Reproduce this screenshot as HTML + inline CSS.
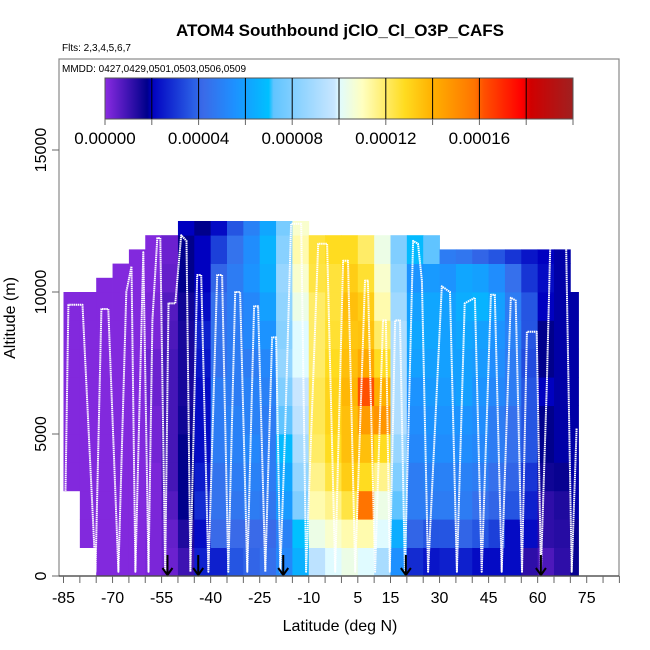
<!DOCTYPE html>
<html><head><meta charset="utf-8">
<style>
html,body{margin:0;padding:0;background:#fff;}
svg{display:block;font-family:"Liberation Sans",sans-serif;}
</style></head>
<body>
<svg id="chart" width="650" height="650" viewBox="0 0 650 650" xmlns="http://www.w3.org/2000/svg">
<rect x="0" y="0" width="650" height="650" fill="#fff"/>
<text x="340" y="36" text-anchor="middle" font-size="17" font-weight="bold">ATOM4 Southbound jClO_Cl_O3P_CAFS</text>
<text x="62" y="51" font-size="10">Flts: 2,3,4,5,6,7</text>
<g id="heat"></g>
<g id="track"></g>
<g id="arrows"></g>
<rect x="59" y="59" width="560" height="517" fill="none" stroke="#888" stroke-width="1.2"/>
<text x="62" y="72" font-size="10">MMDD: 0427,0429,0501,0503,0506,0509</text>
<g id="cbar"></g>
<g id="axes"></g>
<text x="340" y="631" text-anchor="middle" font-size="16">Latitude (deg N)</text>
<text transform="translate(15,318) rotate(-90)" text-anchor="middle" font-size="16">Altitude (m)</text>
</svg>
<script>
// ---- data ----
const latEdges = [-85,-80,-75,-70,-65,-60,-55,-50,-45,-40,-35,-30,-25,-20,-15,-10,-5,0,5,10,15,20,25,30,35,40,45,50,55,60,65,70,72.5];
const altEdges = [0,1000,2000,3000,4000,5000,6000,7000,8000,9000,10000,11000,12000,12500];
const colBottom = [3000,500,0,0,0,0,0,0,0,0,0,0,0,0,0,0,0,0,0,0,0,0,0,0,0,0,0,0,0,0,0,0];
const colTop = [10000,10000,10500,11000,11500,12000,12000,12500,12500,12500,12500,12500,12500,12500,12500,12000,12000,12000,12000,12000,12000,12000,12000,11500,11500,11500,11500,11500,11500,11500,11500,10000];
// values in units of 1e-6
const vals = [
[null,null,null,1,1,1,1,1,1,1,null,null,null],
[null,1,1,1,1,1,1,1,1,1,null,null,null],
[1,1,1,1,1,1,1,1,1,1,1,null,null],
[1,1,1,1,1,1,1,1,1,1,1,null,null],
[1,1,1,1,1,1,1,1,1,1,1,1,null],
[2,2,2,2,3,3,4,4,2,2,1,1,null],
[4,5,7,9,9,9,9,9,8,7,5,4,null],
[10,14,18,18,18,16,15,15,15,16,18,18,20],
[26,22,28,25,22,22,22,24,26,22,20,20,18],
[26,42,45,45,48,48,48,45,45,44,40,32,22],
[36,42,46,48,50,50,48,48,48,48,48,45,36],
[40,42,48,50,52,50,50,48,52,52,56,54,50],
[44,42,46,48,48,48,50,52,56,60,64,66,62],
[52,50,58,62,68,72,80,85,82,84,86,82,78],
[65,70,80,85,90,95,98,100,100,104,108,112,108],
[95,104,112,116,120,122,122,120,120,120,124,125,null],
[100,108,116,124,128,130,130,128,126,125,125,128,null],
[104,112,124,132,136,136,138,136,134,136,132,128,null],
[100,112,158,128,136,146,162,142,135,132,126,120,null],
[90,100,104,116,128,148,140,128,120,112,108,104,null],
[55,64,72,80,86,92,92,92,92,88,84,80,null],
[28,40,48,48,52,54,56,60,62,60,56,68,null],
[24,36,48,50,54,56,58,60,62,62,58,72,null],
[26,36,48,50,54,56,58,60,60,60,56,48,null],
[26,40,48,50,54,56,60,60,62,64,62,46,null],
[22,36,44,48,52,54,56,58,60,66,60,40,null],
[22,32,40,44,48,48,52,54,56,60,54,36,null],
[22,22,36,40,44,44,48,48,50,48,44,30,null],
[12,22,26,30,36,36,36,34,36,36,30,24,null],
[8,12,12,16,18,18,20,18,18,20,22,20,null],
[12,13,14,17,19,19,19,19,19,19,19,19,null],
[17,17,19,19,19,19,19,19,19,19,null,null,null]
];
const trackLat = [-84.4,-83.5,-79.2,-75.2,-73.4,-71.3,-68.2,-65.8,-64.2,-63,-60.6,-59,-57.8,-56.3,-55.4,-53.9,-52.9,-50.8,-49,-47.4,-46.2,-44.1,-42.9,-40.7,-38,-36.5,-34.6,-32.5,-31,-28.8,-26.7,-25.5,-23.3,-21.2,-20,-18.7,-17.2,-15.4,-12.3,-10.8,-7.1,-4.4,-1.9,0.5,2,4.2,7.2,8.1,10.3,12.7,13.6,14.8,16.4,17.9,19.4,21.9,23.4,24.6,26.5,30.7,33.2,35.3,37.7,40.8,42.9,45.7,46.9,49,51.8,53.3,55.2,56.7,59.7,61,62.8,64,68.6,70.4,71.9];
const trackAlt = [3000,9550,9550,150,9400,9400,150,10000,10900,150,11400,150,9000,11900,11900,150,9600,9600,12000,11800,150,10600,10600,150,10600,10600,150,10000,10000,150,9500,9500,150,8400,8400,150,5200,12400,12400,150,11700,11700,150,11100,11100,150,10400,10400,150,9000,9000,150,9000,9000,150,11800,11700,10400,150,10200,10000,150,9600,9800,150,9900,9900,150,9800,9700,150,8600,8600,150,6700,12300,12300,150,5200];
const arrowLats = [-53.2,-43.8,-17.8,19.7,61];
const xTicks = [-85,-80,-75,-70,-65,-60,-55,-50,-45,-40,-35,-30,-25,-20,-15,-10,-5,0,5,10,15,20,25,30,35,40,45,50,55,60,65,70,75,80,85];
const xLabels = [-85,-70,-55,-40,-25,-10,5,15,30,45,60,75];
const yTicks = [0,5000,10000,15000];
const cbTicks = [0,20,40,60,80,100,120,140,160,180,200];
const cbLabels = ["0.00000","0.00004","0.00008","0.00012","0.00016"];
const cbLabelVals = [0,40,80,120,160];
const cStops = [[0,"#8a2be2"],[18,"#00008b"],[20,"#0000c0"],[38,"#2a60e6"],[42,"#3a6ae8"],[55,"#1e90ff"],[70,"#00c0ff"],[72,"#60c4ff"],[98,"#c8e6ff"],[100,"#e0fbff"],[110,"#ffffc0"],[128,"#ffdc20"],[140,"#ffb000"],[158,"#ff7400"],[162,"#ff5000"],[178,"#ff0000"],[182,"#d00000"],[200,"#a02020"]];

// ---- scales ----
const X = lat => 63.5 + (lat + 85) * 3.27;
const Y = alt => 576 - alt * 0.0284;
const CB = v => 105 + v * 2.34;
function hex(c){return [1,3,5].map(i=>parseInt(c.substr(i,2),16));}
function color(v){
  if(v<=cStops[0][0]) return cStops[0][1];
  for(let i=1;i<cStops.length;i++){
    if(v<=cStops[i][0]){
      const a=cStops[i-1],b=cStops[i];const t=(v-a[0])/(b[0]-a[0]);
      const ca=hex(a[1]),cb=hex(b[1]);
      return "rgb("+ca.map((x,k)=>Math.round(x+(cb[k]-x)*t)).join(",")+")";
    }
  }
  return cStops[cStops.length-1][1];
}
const NS="http://www.w3.org/2000/svg";
function mk(tag,attrs,parent){const e=document.createElementNS(NS,tag);for(const k in attrs)e.setAttribute(k,attrs[k]);parent.appendChild(e);return e;}

// ---- heatmap ----
const heat=document.getElementById('heat');
for(let c=0;c<vals.length;c++){
  for(let r=0;r<altEdges.length-1;r++){
    const v=vals[c][r]; if(v===null||v===undefined) continue;
    const lo=Math.max(altEdges[r],colBottom[c]); const hi=Math.min(altEdges[r+1],colTop[c]);
    if(hi<=lo) continue;
    const x0=X(latEdges[c]), x1=X(latEdges[c+1]);
    const cell=mk('rect',{x:x0.toFixed(2),y:Y(hi).toFixed(2),width:(x1-x0+0.4).toFixed(2),height:(Y(lo)-Y(hi)+0.4).toFixed(2),fill:color(v)},heat);
    
    
  }
}

// ---- track ----
const tg=document.getElementById('track');
const pts=trackLat.map((l,i)=>X(l).toFixed(1)+","+Y(trackAlt[i]).toFixed(1)).join(" ");
const pl=mk('polyline',{points:pts,fill:"none",stroke:"#fff","stroke-width":"2","stroke-dasharray":"1.5,0.6","stroke-linejoin":"round"},tg);



// ---- arrows ----
const ag=document.getElementById('arrows');
arrowLats.forEach(l=>{
  const x=X(l);
  const g=mk('g',{},ag);
  
  
  mk('line',{x1:x,y1:555,x2:x,y2:575,stroke:"#000","stroke-width":"2"},g);
  mk('polyline',{points:(x-5)+",568 "+x+",575 "+(x+5)+",568",fill:"none",stroke:"#000","stroke-width":"2"},g);
});

// ---- colorbar ----
const cg=document.getElementById('cbar');
const defs=mk('defs',{},cg);
const grad=mk('linearGradient',{id:'cbg',x1:"0",x2:"1",y1:"0",y2:"0"},defs);
cStops.forEach(s=>mk('stop',{offset:(s[0]/200).toFixed(3),"stop-color":s[1]},grad));
const cbr=mk('rect',{x:105,y:78,width:468,height:41,fill:"url(#cbg)",stroke:"#555","stroke-width":"1"},cg);


cbTicks.forEach(v=>{
  const x=CB(v);
  if(v>0&&v<200){ const sl=mk('line',{x1:x,y1:78,x2:x,y2:119,stroke:"#000","stroke-width":"1"},cg);
      }
  const t=mk('line',{x1:x,y1:119,x2:x,y2:125,stroke:"#666","stroke-width":"1"},cg);
   
});
cbLabels.forEach((s,i)=>{
  const t=mk('text',{x:CB(cbLabelVals[i]),y:144,"text-anchor":"middle","font-size":"17"},cg);
  t.textContent=s;
   
});

// ---- axes ----
const ax=document.getElementById('axes');
const xl=mk('line',{x1:59,y1:576,x2:619,y2:576,stroke:"#444","stroke-width":"1.2"},ax);
 
xTicks.forEach(v=>{const t=mk('line',{x1:X(v),y1:576,x2:X(v),y2:583,stroke:"#666","stroke-width":"1"},ax);
   });
xLabels.forEach(v=>{const t=mk('text',{x:X(v),y:603,"text-anchor":"middle","font-size":"16"},ax);t.textContent=v;
   });
yTicks.forEach(v=>{const y=Y(v);
  const t=mk('line',{x1:52,y1:y,x2:59,y2:y,stroke:"#666","stroke-width":"1"},ax);
   
  const l=mk('text',{transform:"translate(46,"+y+") rotate(-90)","text-anchor":"middle","font-size":"16"},ax);l.textContent=v;
   });
</script>
</body></html>
